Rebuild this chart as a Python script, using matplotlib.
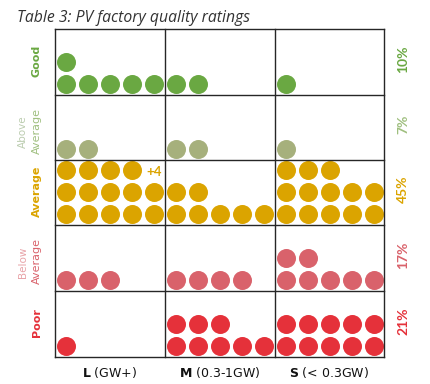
import numpy as np
import matplotlib.pyplot as plt

# ratings (rows) x factory size (columns)
ratings = ["Good", "Above Average", "Average", "Below Average", "Poor"]
sizes = ["L", "M", "S"]
size_notes = [" (GW+)", " (0.3-1GW)", " (< 0.3GW)"]
# dots drawn per cell
counts = [
    [6, 2, 1],
    [2, 2, 1],
    [14, 7, 13],
    [3, 4, 7],
    [1, 8, 10],
]
extra = {(2, 0): "+4"}
shares = ["10%", "7%", "45%", "17%", "21%"]

dot_colors = ["#6aa842", "#a6b07c", "#dba400", "#d9626b", "#e5313a"]
label_colors = ["#6aa842", "#9fbf7f", "#dba400", "#d9626b", "#e5313a"]
faint_colors = {"Above": "#bccdb0", "Below": "#e8a3a8"}

W, H = 431, 384
fig = plt.figure(figsize=(W / 100, H / 100), dpi=100)
ax = fig.add_axes([0, 0, 1, 1])
ax.set_xlim(0, W)
ax.set_ylim(H, 0)
ax.axis("off")

col_edges = [55, 165, 275, 384]
row_edges = [29, 95, 160, 225, 291, 357]
step = 22
dot_s = (19 * 72 / 100) ** 2

lab_font = "DejaVu Sans"

# dots
for r in range(len(ratings)):
    for c in range(len(sizes)):
        n = counts[r][c]
        idx = np.arange(n)
        xs = col_edges[c] + 11.5 + step * (idx % 5)
        ys = row_edges[r + 1] - 11 - step * (idx // 5)
        ax.scatter(xs, ys, s=dot_s, color=dot_colors[r], linewidths=0, zorder=2)
        if (r, c) in extra:
            ax.text(col_edges[c] + 99, row_edges[r] + 12, extra[(r, c)],
                    color=dot_colors[r], fontsize=9.5, fontweight="bold",
                    family="Lato", ha="center", va="center")

# grid
for x in col_edges:
    ax.plot([x, x], [row_edges[0], row_edges[-1]], color="#262626", lw=1.0, zorder=3)
for y in row_edges:
    ax.plot([col_edges[0], col_edges[-1]], [y, y], color="#262626", lw=1.0, zorder=3)

# left labels
for r, name in enumerate(ratings):
    yc = (row_edges[r] + row_edges[r + 1]) / 2
    if name in ("Above Average", "Below Average"):
        first = name.split()[0]
        ax.text(23, yc + 4, first, rotation=90, color=faint_colors[first],
                fontsize=7.5, family=lab_font, ha="center", va="center")
        ax.text(37, yc + 3, "Average", rotation=90, color=label_colors[r],
                fontsize=8, family=lab_font, ha="center", va="center")
    else:
        ax.text(37, yc - 1, name, rotation=90, color=label_colors[r],
                fontsize=8, family=lab_font, fontweight="bold", ha="center", va="center")
    # right share
    ax.text(403, yc - 3, shares[r], rotation=90, color=label_colors[r],
            fontsize=10, family="Lato", fontweight="bold", ha="center", va="center")

# bottom labels
for c in range(len(sizes)):
    xc = (col_edges[c] + col_edges[c + 1]) / 2
    ax.text(xc, 372, r"$\mathbf{" + sizes[c] + "}$" + size_notes[c], color="#111111",
            fontsize=9, family=lab_font, ha="center", va="center")

ax.text(17, 18, "Table 3: PV factory quality ratings", color="#333333",
        fontsize=11.3, family="Open Sans", style="italic", ha="left", va="center")

fig.savefig("out.png", dpi=100)
